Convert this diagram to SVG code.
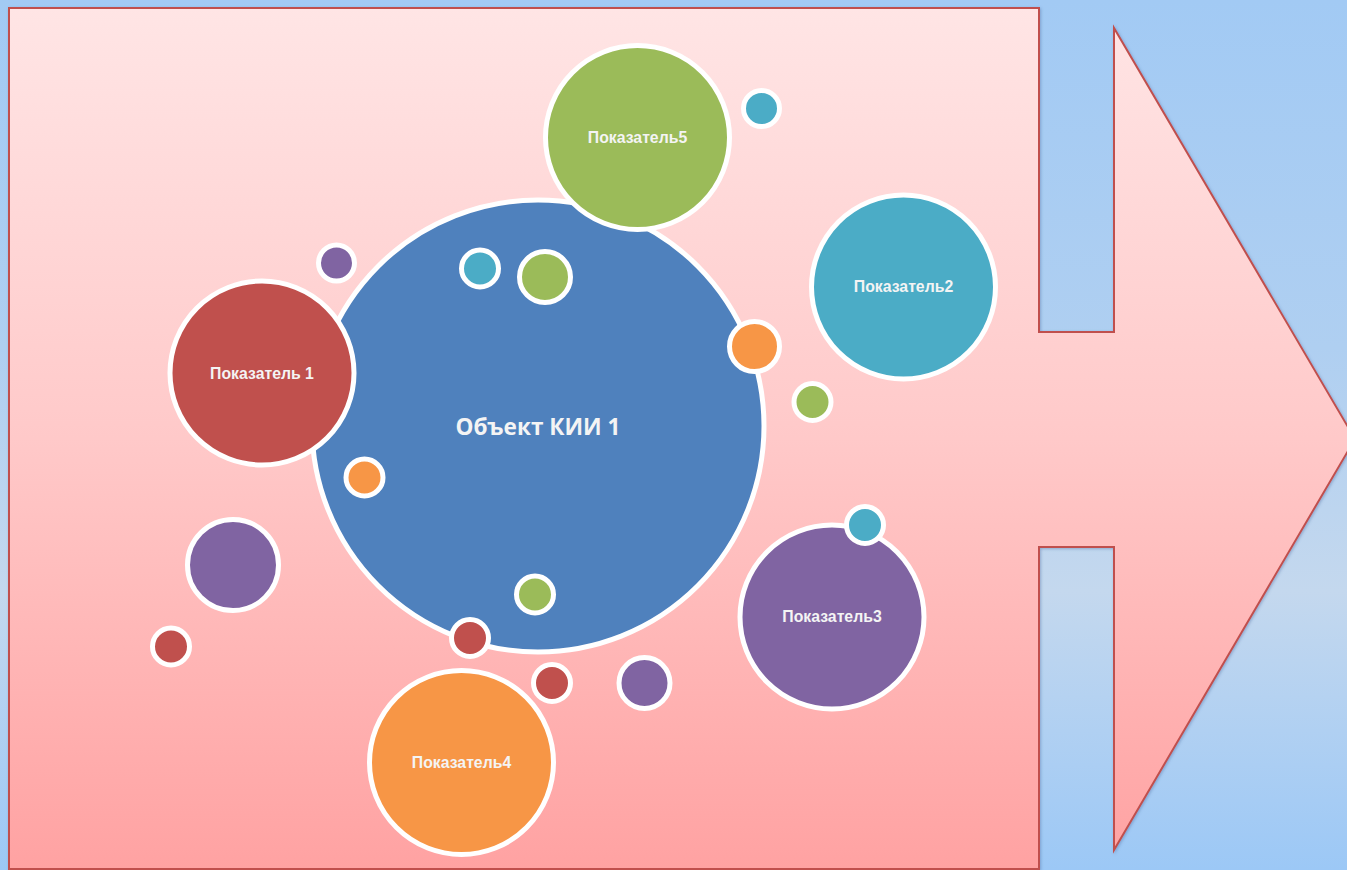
<svg xmlns="http://www.w3.org/2000/svg" width="1347" height="870" viewBox="0 0 1347 870">
<defs>
<linearGradient id="bg" x1="0" y1="0" x2="0" y2="870" gradientUnits="userSpaceOnUse">
<stop offset="0" stop-color="#A2CAF4"/>
<stop offset="0.4" stop-color="#AFCFF1"/>
<stop offset="0.68" stop-color="#C4D8EE"/>
<stop offset="1" stop-color="#9CC8F6"/>
</linearGradient>
<linearGradient id="pink" x1="0" y1="8" x2="0" y2="869" gradientUnits="userSpaceOnUse">
<stop offset="0" stop-color="#FFE5E5"/>
<stop offset="0.5" stop-color="#FFC9C9"/>
<stop offset="1" stop-color="#FFA2A2"/>
</linearGradient>
<filter id="sh" x="-5%" y="-5%" width="110%" height="110%">
<feDropShadow dx="1" dy="1" stdDeviation="1.5" flood-color="#5070A0" flood-opacity="0.45"/>
</filter>
<style>
.frame{fill:url(#pink);stroke:#C0504D;stroke-width:2;stroke-linejoin:miter}
.c{stroke:#FFFFFF;stroke-width:5}
.blue{fill:#4F81BD}
.red{fill:#C0504D}
.green{fill:#9BBB59}
.teal{fill:#4BACC6}
.purple{fill:#8064A2}
.orange{fill:#F79646}
.lbl{font-family:"Liberation Sans",Arial,sans-serif;font-weight:bold;font-size:15.8px;fill:#F4F4F4;text-anchor:middle}
.main{font-family:"Open Sans","Liberation Sans",sans-serif;font-weight:bold;font-size:22.6px;fill:#F4F4F4;text-anchor:middle}
</style>
</defs>
<rect x="0" y="0" width="1347" height="870" fill="url(#bg)"/>
<path id="frame" class="frame" filter="url(#sh)" d="M9,8 H1039 V332 H1114 V28 L1355,439 L1114,850 V547 H1039 V869 H9 Z"/>
<g id="connectors"/>
<g id="small-purple-1"><circle class="c purple" cx="336.5" cy="263" r="18"/></g>
<g id="small-purple-big"><circle class="c purple" cx="233" cy="565" r="45.5"/></g>
<g id="small-red-far"><circle class="c red" cx="171" cy="646.5" r="18.5"/></g>
<g id="small-teal-top"><circle class="c teal" cx="761.5" cy="108.5" r="18"/></g>
<g id="small-green-right"><circle class="c green" cx="812.5" cy="402" r="18.5"/></g>
<g id="small-red-below"><circle class="c red" cx="552" cy="683" r="18.5"/></g>
<g id="small-purple-bottom"><circle class="c purple" cx="644.5" cy="683" r="25.5"/></g>
<g id="object-kii">
<circle class="c blue" cx="538" cy="426" r="226"/>
<text class="main" x="538" y="435">Объект КИИ 1</text>
</g>
<g id="small-teal-in"><circle class="c teal" cx="480" cy="268.5" r="18.5"/></g>
<g id="small-green-in"><circle class="c green" cx="545" cy="277" r="25.5"/></g>
<g id="small-orange-in"><circle class="c orange" cx="364.5" cy="477.5" r="18.5"/></g>
<g id="small-green-bottom"><circle class="c green" cx="535" cy="594.5" r="18.5"/></g>
<g id="small-red-edge"><circle class="c red" cx="470" cy="638" r="18.5"/></g>
<g id="small-orange-edge"><circle class="c orange" cx="754.5" cy="346.5" r="25"/></g>
<g id="pokazatel1">
<circle class="c red" cx="262" cy="373" r="92"/>
<text class="lbl" x="262" y="379">Показатель 1</text>
</g>
<g id="pokazatel5">
<circle class="c green" cx="637.5" cy="137.5" r="92"/>
<text class="lbl" x="637.5" y="143">Показатель5</text>
</g>
<g id="pokazatel2">
<circle class="c teal" cx="903.5" cy="287" r="92"/>
<text class="lbl" x="903.5" y="292">Показатель2</text>
</g>
<g id="pokazatel3">
<circle class="c purple" cx="832" cy="617" r="92"/>
<text class="lbl" x="832" y="622">Показатель3</text>
</g>
<g id="small-teal-p3"><circle class="c teal" cx="865" cy="525" r="18.5"/></g>
<g id="pokazatel4">
<circle class="c orange" cx="461.5" cy="762.5" r="92"/>
<text class="lbl" x="461.5" y="768">Показатель4</text>
</g>
</svg>
